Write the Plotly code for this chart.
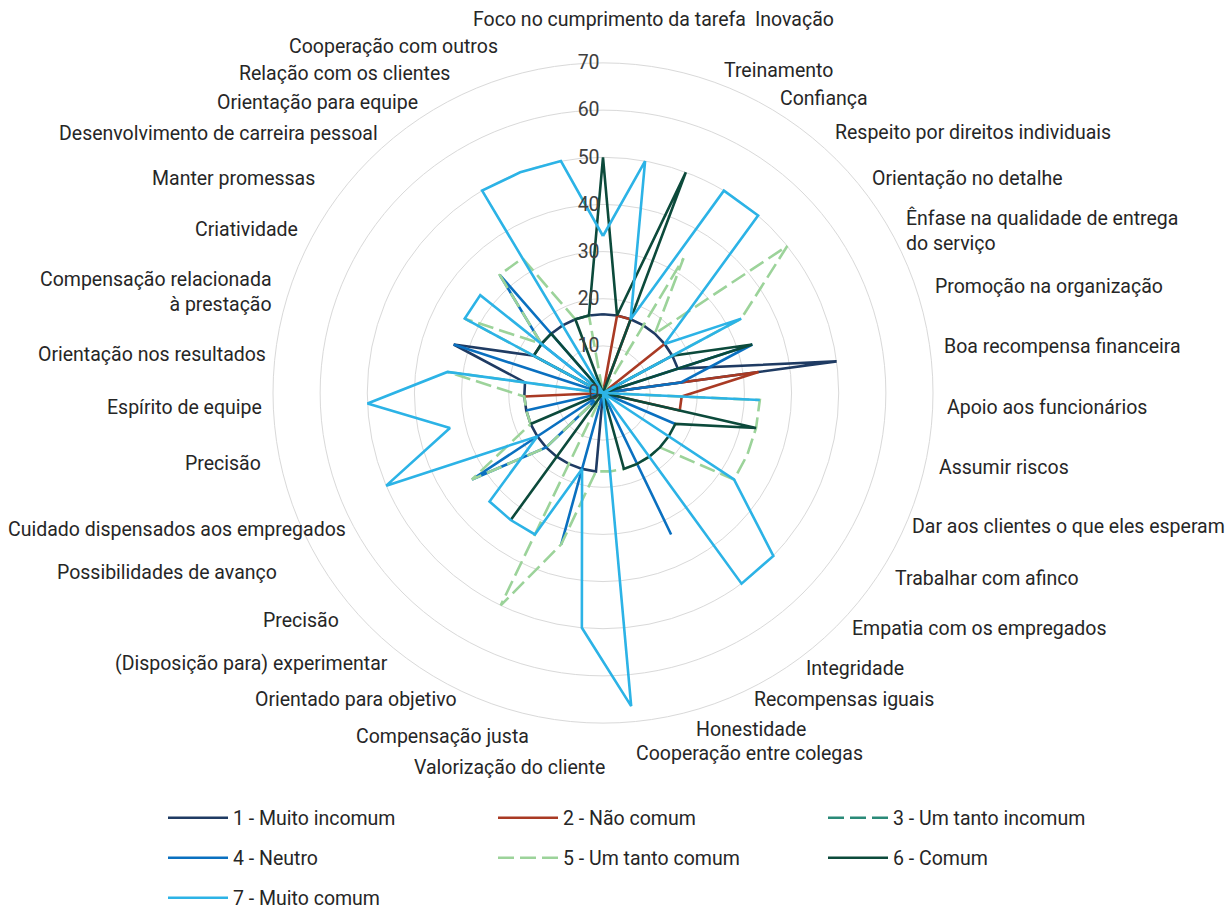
import plotly.graph_objects as go

categories = [
    "Foco no cumprimento da tarefa", "Inovação", "Treinamento", "Confiança",
    "Respeito por direitos individuais", "Orientação no detalhe",
    "Ênfase na qualidade de entrega<br>do serviço", "Promoção na organização",
    "Boa recompensa financeira", "Apoio aos funcionários", "Assumir riscos",
    "Dar aos clientes o que eles esperam", "Trabalhar com afinco",
    "Empatia com os empregados", "Integridade", "Recompensas iguais",
    "Honestidade", "Cooperação entre colegas", "Valorização do cliente",
    "Compensação justa", "Orientado para objetivo", "(Disposição para) experimentar",
    "Precisão", "Possibilidades de avanço", "Cuidado dispensados aos empregados",
    "Precisão", "Espírito de equipe", "Orientação nos resultados",
    "Compensação relacionada<br>à prestação", "Criatividade", "Manter promessas",
    "Desenvolvimento de carreira pessoal", "Orientação para equipe",
    "Relação com os clientes", "Cooperação com outros",
]

muito_incomum = [16.7, 16.7, 16.7, 16.7, 16.7, 16.7, 16.7, 16.7, 50, 0,
                 0, 0, 0, 0, 0, 0, 0, 0, 16.7, 16.7,
                 16.7, 16.7, 16.7, 16.7, 16.7, 16.7, 16.7, 16.7, 33.3, 16.7,
                 16.7, 16.7, 16.7, 16.7, 16.7]
nao_comum = [0, 16.7, 16.7, 0, 0, 16.7, 0, 0, 33.3, 16.7,
             16.7, 0, 0, 0, 0, 0, 0, 0, 0, 0,
             0, 0, 0, 0, 0, 0, 16.7, 0, 0, 0,
             0, 0, 0, 0, 0]
um_tanto_incomum = [0] * 35
neutro = [0, 0, 0, 0, 0, 0, 0, 33.3, 16.7, 0,
          0, 16.7, 0, 0, 0, 33.3, 0, 0, 0, 33.3,
          0, 0, 16.7, 33.3, 0, 16.7, 0, 0, 33.3, 0,
          16.7, 33.3, 0, 0, 0]
um_tanto_comum = [0, 0, 0, 33.3, 16.7, 50, 33.3, 0, 0, 33.3,
                  33.3, 33.3, 33.3, 16.7, 16.7, 16.7, 16.7, 16.7, 16.7, 33.3,
                  50, 0, 16.7, 33.3, 16.7, 16.7, 16.7, 33.3, 0, 33.3,
                  16.7, 33.3, 33.3, 16.7, 16.7]
comum = [50, 16.7, 50, 0, 0, 0, 16.7, 33.3, 0, 0,
         33.3, 16.7, 16.7, 16.7, 16.7, 16.7, 16.7, 0, 0, 0,
         0, 33.3, 0, 0, 16.7, 0, 0, 0, 0, 16.7,
         16.7, 16.7, 0, 16.7, 16.7]
muito_comum = [33.3, 50, 16.7, 50, 50, 16.7, 33.3, 0, 0, 33.3,
               0, 0, 33.3, 50, 50, 0, 0, 66.7, 50, 16.7,
               33.3, 33.3, 33.3, 16.7, 50, 33.3, 50, 33.3, 0, 33.3,
               33.3, 0, 50, 50, 50]

series_names = ["1 - Muito incomum", "2 - Não comum", "3 - Um tanto incomum",
                "4 - Neutro", "5 - Um tanto comum", "6 - Comum", "7 - Muito comum"]
series_values = [muito_incomum, nao_comum, um_tanto_incomum, neutro,
                 um_tanto_comum, comum, muito_comum]

# ---- styling / layout (not data) ----
colors = ["#1F3B63", "#A93A24", "#2A8A78", "#0A70C0", "#9CD39A", "#0C4A3B", "#2CB3E6"]
dashes = ["solid", "solid", "16px,6px", "solid", "16px,6px", "solid", "solid"]
legend_rows = ["legend", "legend", "legend", "legend2", "legend2", "legend2", "legend3"]

# label placement around the chart, in pixels (x, y, anchor), one per category
label_places = [
    (748, 20, "right"), (753, 20, "left"), (722, 71, "left"), (778, 98, "left"),
    (833, 133, "left"), (870, 178, "left"), (904, 230, "left"), (933, 286, "left"),
    (942, 346, "left"), (945, 407, "left"), (937, 467, "left"), (910, 526, "left"),
    (893, 578, "left"), (850, 628, "left"), (804, 668, "left"), (752, 699, "left"),
    (694, 729, "left"), (634, 753, "left"), (607, 767, "right"), (531, 736, "right"),
    (459, 699, "right"), (390, 663, "right"), (341, 620, "right"), (279, 572, "right"),
    (348, 529, "right"), (263, 463, "right"), (264, 407, "right"), (268, 354, "right"),
    (274, 292, "right"), (300, 229, "right"), (317, 178, "right"), (380, 134, "right"),
    (420, 102, "right"), (452, 73, "right"), (500, 46, "right"),
]

W, H = 1226, 909
n = len(categories)
angles = [i * 360.0 / n for i in range(n)]

fig = go.Figure()
for name, vals, col, dash, lg in zip(series_names, series_values, colors, dashes, legend_rows):
    fig.add_trace(go.Scatterpolar(
        r=vals + [vals[0]],
        theta=angles + [angles[0]],
        mode="lines",
        name=name,
        legend=lg,
        line=dict(color=col, width=2.6, dash=dash),
    ))

font_family = "Roboto, Arial, sans-serif"
text_col = "#262626"

annotations = []
for text, (px, py, anchor) in zip(categories, label_places):
    annotations.append(dict(
        text=text, x=px / W, y=1 - py / H, xref="paper", yref="paper",
        xanchor=anchor, yanchor="middle", align=anchor, showarrow=False,
        font=dict(size=19.5, color=text_col, family=font_family),
    ))

legend_common = dict(
    orientation="h", xanchor="left", yanchor="middle",
    entrywidth=255, entrywidthmode="pixels", itemwidth=60,
    font=dict(size=19.5, color=text_col, family=font_family),
    bgcolor="rgba(0,0,0,0)",
)

cx, cy, R = 603, 393, 330
fig.update_layout(
    width=W, height=H,
    margin=dict(l=0, r=0, t=0, b=0, autoexpand=False),
    paper_bgcolor="white",
    plot_bgcolor="white",
    font=dict(family=font_family, size=19, color=text_col),
    polar=dict(
        domain=dict(x=[(cx - R) / W, (cx + R) / W], y=[1 - (cy + R) / H, 1 - (cy - R) / H]),
        bgcolor="white",
        gridshape="linear",
        radialaxis=dict(
            range=[0, 70], dtick=10, angle=90, tickangle=90,
            showline=False, ticks="", gridcolor="#D9D9D9", gridwidth=1,
            tickfont=dict(size=19.5, color="#404040"),
            side="counterclockwise",
        ),
        angularaxis=dict(
            direction="clockwise", rotation=90, thetaunit="degrees",
            tickmode="array", tickvals=angles, ticktext=[""] * n,
            showgrid=False, showline=True, linecolor="#D9D9D9", linewidth=1,
            ticks="",
        ),
    ),
    showlegend=True,
    legend=dict(x=163 / W, y=1 - 818 / H, **legend_common),
    legend2=dict(x=163 / W, y=1 - 858 / H, **legend_common),
    legend3=dict(x=163 / W, y=1 - 898 / H, **legend_common),
    annotations=annotations,
)

fig.write_html("out.html", config={"displayModeBar": False},
               post_script="document.body.style.margin='0px';")
